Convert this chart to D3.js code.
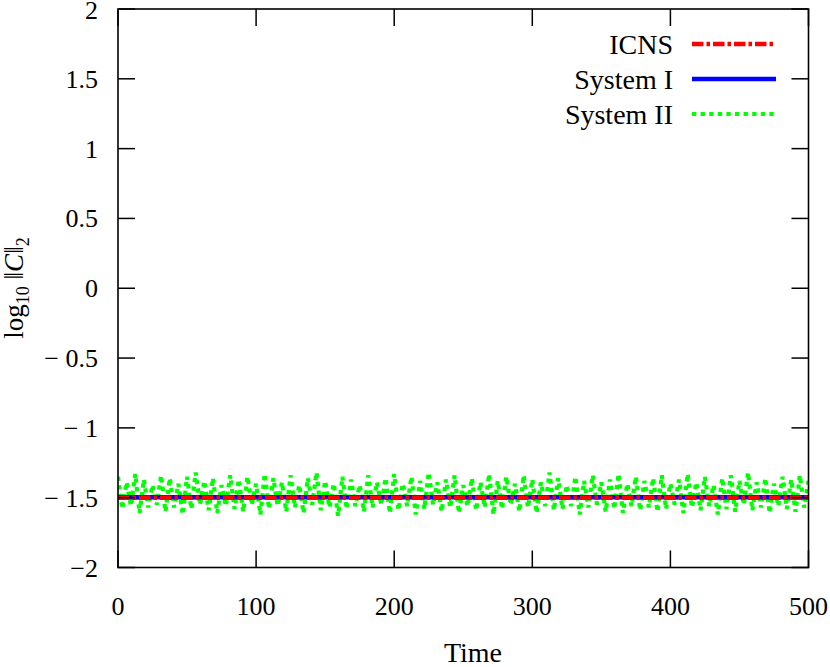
<!DOCTYPE html>
<html>
<head>
<meta charset="utf-8">
<script src="https://cdn.jsdelivr.net/npm/d3@7"></script>
<style>
  html, body { margin: 0; padding: 0; background: #fff; }
  svg { display: block; }
  text { font-family: "Liberation Serif", "DejaVu Serif", serif; fill: #000; }
</style>
</head>
<body>
<svg id="chart" width="830" height="667"></svg>
<script>
// ---- data ----
const xTicks = [0, 100, 200, 300, 400, 500];
const yTicks = [2, 1.5, 1, 0.5, 0, -0.5, -1, -1.5, -2];
const yTickLabels = ["2", "1.5", "1", "0.5", "0", "\u2212 0.5", "\u2212 1", "\u2212 1.5", "\u22122"];
const seriesNames = ["ICNS", "System I", "System II"];
const icnsTime = [0, 100, 200, 300, 400, 500];
const icnsValues = [-1.5, -1.5, -1.5, -1.5, -1.5, -1.5];
const sys1Time = [0, 100, 200, 300, 400, 500];
const sys1Values = [-1.497, -1.497, -1.497, -1.497, -1.497, -1.497];
// System II: alternating local maxima / minima of the fast oscillation (every 3.125 time units)
const sys2Peaks = [
  -1.35,-1.39,-1.33,-1.37,-1.41,-1.34,-1.36,-1.40,-1.35,-1.32,
  -1.38,-1.36,-1.41,-1.34,-1.37,-1.35,-1.40,-1.33,-1.36,-1.39,
  -1.34,-1.41,-1.36,-1.32,-1.38,-1.40,-1.35,-1.37,-1.41,-1.34,
  -1.39,-1.36,-1.33,-1.40,-1.35,-1.38,-1.32,-1.39,-1.37,-1.34,
  -1.41,-1.36,-1.39,-1.33,-1.38,-1.35,-1.40,-1.34,-1.37,-1.39,
  -1.32,-1.36,-1.41,-1.35,-1.38,-1.34,-1.39,-1.37,-1.33,-1.40,
  -1.35,-1.38,-1.36,-1.34,-1.40,-1.37,-1.33,-1.39,-1.35,-1.41,
  -1.36,-1.34,-1.38,-1.32,-1.39,-1.36,-1.40,-1.35,-1.37,-1.34,
  -1.38
];
const sys2Troughs = [
  -1.58,-1.56,-1.61,-1.57,-1.55,-1.60,-1.57,-1.62,-1.58,-1.55,
  -1.59,-1.61,-1.56,-1.58,-1.60,-1.55,-1.62,-1.58,-1.56,-1.60,
  -1.57,-1.61,-1.55,-1.59,-1.57,-1.63,-1.58,-1.56,-1.60,-1.57,
  -1.55,-1.61,-1.59,-1.56,-1.62,-1.58,-1.55,-1.60,-1.57,-1.61,
  -1.56,-1.59,-1.57,-1.62,-1.58,-1.55,-1.60,-1.57,-1.61,-1.56,
  -1.59,-1.58,-1.56,-1.62,-1.57,-1.55,-1.60,-1.58,-1.61,-1.56,
  -1.59,-1.57,-1.60,-1.58,-1.55,-1.61,-1.57,-1.59,-1.56,-1.62,
  -1.58,-1.60,-1.55,-1.59,-1.57,-1.61,-1.56,-1.58,-1.60,-1.57
];
const sys2Step = 3.125;

(function () {
// ---- layout ----
const svg = d3.select("#chart");
const pL = 118, pR = 808.5, pT = 9, pB = 567.5;
const x = d3.scaleLinear().domain([0, 500]).range([pL, pR]);
const y = d3.scaleLinear().domain([-2, 2]).range([pB, pT]);
const tickLen = 17;
const fsNum = 26;
const fsWord = 28;

// interleave peaks and troughs
const sys2 = [];
sys2Peaks.forEach((p, i) => {
  sys2.push([sys2.length * sys2Step, p]);
  if (i < sys2Troughs.length) sys2.push([sys2.length * sys2Step, sys2Troughs[i]]);
});

svg.append("defs").append("clipPath").attr("id", "clip")
  .append("rect").attr("x", pL).attr("y", pT).attr("width", pR - pL).attr("height", pB - pT);

const plot = svg.append("g").attr("clip-path", "url(#clip)");
const line = d3.line().x(d => x(d[0])).y(d => y(d[1]));

// System II (green, dotted, zigzag)
plot.append("path")
  .datum(sys2)
  .attr("d", line)
  .attr("fill", "none")
  .attr("stroke", "#00ff00")
  .attr("stroke-width", 4.2)
  .attr("stroke-dasharray", "4.3,4.3")
  .attr("stroke-linejoin", "miter")
  .attr("stroke-miterlimit", 4);

// System I (blue solid)
plot.append("path")
  .datum(sys1Time.map((t, i) => [t, sys1Values[i]]))
  .attr("d", line)
  .attr("fill", "none")
  .attr("stroke", "#0000ff")
  .attr("stroke-width", 4.5);

// ICNS (red dash-dot)
plot.append("path")
  .datum(icnsTime.map((t, i) => [t, icnsValues[i]]))
  .attr("d", line)
  .attr("fill", "none")
  .attr("stroke", "#ff0000")
  .attr("stroke-width", 4.5)
  .attr("stroke-dasharray", "11.5,3,3.5,3");

// ---- axes / border ----
const axes = svg.append("g").attr("stroke", "#000").attr("stroke-width", 1.5);
xTicks.forEach(t => {
  axes.append("line").attr("x1", x(t)).attr("x2", x(t)).attr("y1", pB).attr("y2", pB - tickLen);
  axes.append("line").attr("x1", x(t)).attr("x2", x(t)).attr("y1", pT).attr("y2", pT + tickLen);
});
yTicks.forEach(t => {
  axes.append("line").attr("x1", pL).attr("x2", pL + tickLen).attr("y1", y(t)).attr("y2", y(t));
  axes.append("line").attr("x1", pR).attr("x2", pR - tickLen).attr("y1", y(t)).attr("y2", y(t));
});
svg.append("rect").attr("x", pL).attr("y", pT).attr("width", pR - pL).attr("height", pB - pT)
  .attr("fill", "none").attr("stroke", "#000").attr("stroke-width", 1.6);

// tick labels
svg.append("g").selectAll("text").data(xTicks).join("text")
  .attr("x", d => x(d)).attr("y", 615)
  .attr("text-anchor", "middle").attr("font-size", fsNum)
  .text(d => String(d));
svg.append("g").selectAll("text").data(yTicks).join("text")
  .attr("x", 98).attr("y", (d, i) => y(d) + (i === 0 ? 10 : 9))
  .attr("text-anchor", "end").attr("font-size", fsNum)
  .text((d, i) => yTickLabels[i]);

// axis titles
svg.append("text").attr("x", 473).attr("y", 662).attr("text-anchor", "middle").attr("font-size", fsWord).text("Time");
const yl = svg.append("text").attr("transform", "translate(23,288) rotate(-90)")
  .attr("text-anchor", "middle").attr("font-size", 27);
yl.append("tspan").text("log");
yl.append("tspan").attr("font-size", 18).attr("dy", 6).text("10");
yl.append("tspan").attr("dy", -6).text(" \u2016");
yl.append("tspan").attr("font-style", "italic").attr("font-size", 27).text("C");
yl.append("tspan").text("\u2016");
yl.append("tspan").attr("font-size", 18).attr("dy", 6).text("2");

// ---- legend ----
const legendRows = [
  { name: seriesNames[0], y: 44, color: "#ff0000", dash: "11.5,3,3.5,3", w: 4.5 },
  { name: seriesNames[1], y: 79, color: "#0000ff", dash: null, w: 4.5 },
  { name: seriesNames[2], y: 114, color: "#00ff00", dash: "4.3,4.3", w: 4 }
];
legendRows.forEach(r => {
  svg.append("text").attr("x", 673).attr("y", r.y + 9.5).attr("text-anchor", "end")
    .attr("font-size", fsWord).text(r.name);
  const l = svg.append("line").attr("x1", 692).attr("x2", 776).attr("y1", r.y).attr("y2", r.y)
    .attr("stroke", r.color).attr("stroke-width", r.w);
  if (r.dash) l.attr("stroke-dasharray", r.dash);
});
})();
</script>
</body>
</html>
